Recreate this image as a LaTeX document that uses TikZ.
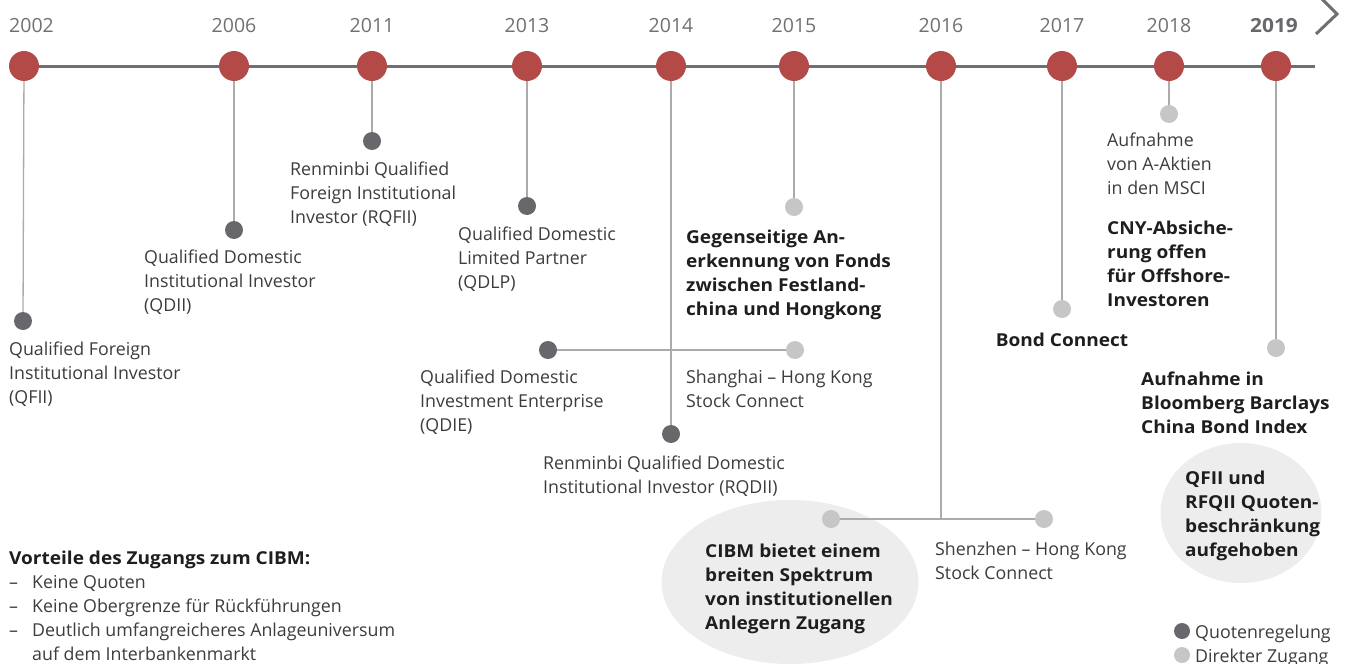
\documentclass[tikz,border=0pt]{standalone}
\usepackage{fontspec}
\setmainfont{Open Sans}[BoldFeatures={FakeStretch=1.07}]
\usetikzlibrary{backgrounds,shapes.geometric}
\definecolor{tlred}{HTML}{B34A48}
\definecolor{qgray}{HTML}{67676C}
\definecolor{dgray}{HTML}{C6C6C6}
\definecolor{lgray}{HTML}{ABABAB}
\definecolor{mline}{HTML}{6E6E73}
\definecolor{ellfill}{HTML}{EDEDED}
\definecolor{txt}{HTML}{3C3C3C}
\definecolor{btxt}{HTML}{1E1E1E}
\definecolor{ytxt}{HTML}{707070}
\begin{document}
\begin{tikzpicture}[x=1pt,y=-1pt,
  yeardot/.style={circle,fill=tlred,minimum size=30pt,inner sep=0pt},
  qdot/.style={circle,fill=qgray,minimum size=18pt,inner sep=0pt},
  ddot/.style={circle,fill=dgray,minimum size=18pt,inner sep=0pt},
  legdot/.style={circle,minimum size=16pt,inner sep=0pt},
  conn/.style={draw=lgray,line width=1.3pt},
  mainline/.style={draw=mline,line width=3pt},
  lbl/.style={anchor=base west,inner sep=0pt,align=left,font=\fontsize{17.8}{24}\selectfont,text=txt},
  blbl/.style={anchor=base west,inner sep=0pt,align=left,font=\fontsize{17.8}{24}\selectfont\bfseries,text=btxt},
  yearlbl/.style={anchor=base,inner sep=0pt,font=\fontsize{19.5}{24}\selectfont,text=ytxt},
  bubble/.style={ellipse,fill=ellfill,inner sep=0pt}]
\useasboundingbox (0,0) rectangle (1347,664);

% year labels
\node[yearlbl,anchor=base west] (t2002) at (9,32) {2002};
\node[yearlbl] (t2006) at (234,32) {2006};
\node[yearlbl] (t2011) at (372,32) {2011};
\node[yearlbl] (t2013) at (527,32) {2013};
\node[yearlbl] (t2014) at (671,32) {2014};
\node[yearlbl] (t2015) at (794,32) {2015};
\node[yearlbl] (t2016) at (941,32) {2016};
\node[yearlbl] (t2017) at (1062,32) {2017};
\node[yearlbl] (t2018) at (1169,32) {2018};
\node[yearlbl,font=\fontsize{19.5}{24}\selectfont\bfseries,text=qgray] (t2019) at (1274,32) {2019};

% chevron
\coordinate (chA) at (1318,-5);
\coordinate (chB) at (1337,14);
\coordinate (chC) at (1316,34);
\draw[draw=mline,line width=3pt] (chA) -- (chB) -- (chC);

% year dots
\node[yeardot] (y2002) at (24,66) {};
\node[yeardot] (y2006) at (234,66) {};
\node[yeardot] (y2011) at (372,66) {};
\node[yeardot] (y2013) at (527,66) {};
\node[yeardot] (y2014) at (671,66) {};
\node[yeardot] (y2015) at (794,66) {};
\node[yeardot] (y2016) at (941,66) {};
\node[yeardot] (y2017) at (1062,66) {};
\node[yeardot] (y2018) at (1169,66) {};
\node[yeardot] (y2019) at (1276,66) {};
\coordinate (lineend) at (1315,66);

% event dots
\node[qdot] (dqfii) at (23,321) {};
\node[qdot] (dqdii) at (234,230) {};
\node[qdot] (drqfii) at (372,141) {};
\node[qdot] (dqdlp) at (527,206) {};
\node[qdot] (dqdie) at (548,350) {};
\node[qdot] (drqdii) at (671,434) {};
\node[ddot] (dshsc) at (795,350) {};
\node[ddot] (dfonds) at (794,207) {};
\node[ddot] (dcibm) at (831,519) {};
\node[ddot] (dszsc) at (1044,519) {};
\coordinate (j2016) at (941,519);
\node[ddot] (dbond) at (1062,309) {};
\node[ddot] (dmsci) at (1169,114) {};
\node[ddot] (dbloom) at (1276,348) {};

% bubbles and connectors behind
\begin{scope}[on background layer]
  \node[bubble,minimum width=257pt,minimum height=164pt] (ecibm) at (790,582) {};
  \node[bubble,minimum width=161pt,minimum height=140pt] (equota) at (1241,513) {};
  \draw[mainline] (y2002.center) -- (lineend);
  \draw[conn] (y2002.center) -- (dqfii.center);
  \draw[conn] (y2006.center) -- (dqdii.center);
  \draw[conn] (y2011.center) -- (drqfii.center);
  \draw[conn] (y2013.center) -- (dqdlp.center);
  \draw[conn] (y2014.center) -- (drqdii.center);
  \draw[conn] (dqdie.center) -- (dshsc.center);
  \draw[conn] (y2015.center) -- (dfonds.center);
  \draw[conn] (y2016.center) -- (j2016);
  \draw[conn] (dcibm.center) -- (dszsc.center);
  \draw[conn] (y2017.center) -- (dbond.center);
  \draw[conn] (y2018.center) -- (dmsci.center);
  \draw[conn] (y2019.center) -- (dbloom.center);
\end{scope}

% texts (anchored at the baseline of their last line)
\node[lbl] (lqfii) at (9,403) {Qualified Foreign\\Institutional Investor\\(QFII)};
\node[lbl] (lqdii) at (144,311) {Qualified Domestic\\Institutional Investor\\(QDII)};
\node[lbl] (lrqfii) at (290,223) {Renminbi Qualified\\Foreign Institutional\\Investor (RQFII)};
\node[lbl] (lqdlp) at (458,288) {Qualified Domestic\\Limited Partner\\(QDLP)};
\node[lbl] (lqdie) at (420,431) {Qualified Domestic\\Investment Enterprise\\(QDIE)};
\node[lbl] (lrqdii) at (543,493) {Renminbi Qualified Domestic\\Institutional Investor (RQDII)};
\node[blbl] (lfonds) at (686,315) {Gegenseitige An-\\erkennung von Fonds\\zwischen Festland-\\china und Hongkong};
\node[lbl] (lshsc) at (686,407) {Shanghai – Hong Kong\\Stock Connect};
\node[blbl] (lcibm) at (705,629) {CIBM bietet einem\\breiten Spektrum\\von institutionellen\\Anlegern Zugang};
\node[lbl] (lszsc) at (935,579) {Shenzhen – Hong Kong\\Stock Connect};
\node[blbl,anchor=base] (lbond) at (1062,346) {Bond Connect};
\node[lbl] (lmsci) at (1107,194) {Aufnahme\\von A-Aktien\\in den MSCI};
\node[blbl] (lcny) at (1107,306) {CNY-Absiche-\\rung offen\\für Offshore-\\Investoren};
\node[blbl] (lbloom) at (1141,433) {Aufnahme in\\Bloomberg Barclays\\China Bond Index};
\node[blbl] (lquota) at (1185,556) {QFII und\\RFQII Quoten-\\beschränkung\\aufgehoben};
\node[lbl] (lvort) at (9,660) {\textbf{\color{btxt}Vorteile des Zugangs zum CIBM:}\\
  \makebox[23pt][l]{–}Keine Quoten\\
  \makebox[23pt][l]{–}Keine Obergrenze für Rückführungen\\
  \makebox[23pt][l]{–}Deutlich umfangreicheres Anlageuniversum\\
  \hspace*{23pt}auf dem Interbankenmarkt};

% legend
\node[legdot,fill=qgray] (legq) at (1182,631) {};
\node[legdot,fill=dgray] (legd) at (1182,655) {};
\node[lbl] (legqt) at (1195,638) {Quotenregelung};
\node[lbl] (legdt) at (1195,662) {Direkter Zugang};
\end{tikzpicture}
\end{document}
